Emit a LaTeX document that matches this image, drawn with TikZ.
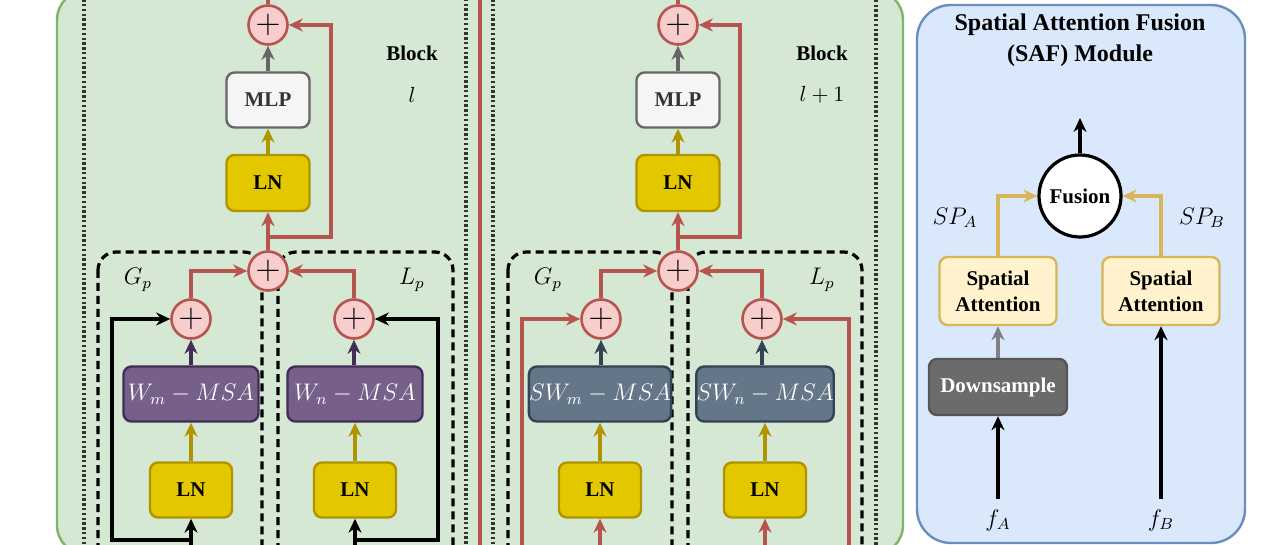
\documentclass[tikz,border=0pt]{standalone}
\usepackage{fontspec}
\setmainfont{Liberation Serif}
\usetikzlibrary{arrows.meta,calc}
\definecolor{grfill}{HTML}{D5E8D4}
\definecolor{grdraw}{HTML}{82B366}
\definecolor{blfill}{HTML}{DAE8FC}
\definecolor{bldraw}{HTML}{6C8EBF}
\definecolor{redc}{HTML}{B85450}
\definecolor{pinkfill}{HTML}{F8CECC}
\definecolor{lnfill}{HTML}{E3C800}
\definecolor{lndraw}{HTML}{B09500}
\definecolor{mlpfill}{HTML}{F5F5F5}
\definecolor{mlpdraw}{HTML}{666666}
\definecolor{purfill}{HTML}{76608A}
\definecolor{purdraw}{HTML}{432D57}
\definecolor{slfill}{HTML}{647687}
\definecolor{sldraw}{HTML}{314354}
\definecolor{safill}{HTML}{FFF2CC}
\definecolor{sadraw}{HTML}{D6B656}
\definecolor{dsfill}{HTML}{6B6B6B}
\definecolor{dsdraw}{HTML}{555555}
\definecolor{mlptext}{HTML}{333333}
\begin{document}
\begin{tikzpicture}[x=0.5pt,y=-0.5pt,
  arr/.style={-{Stealth[length=7pt,width=6.5pt]}},
  redl/.style={draw=redc,line width=1.6pt},
  blkl/.style={draw=black,line width=1.7pt},
  colarr/.style={draw=#1,line width=1.6pt,arr},
  txt/.style={font=\fontsize{10.5}{12}\selectfont\bfseries},
  mathlbl/.style={font=\fontsize{12}{14}\selectfont,inner sep=1pt},
  box/.style={rounded corners=4pt,line width=1.2pt,minimum width=41.5pt,minimum height=27.5pt,inner sep=0pt,txt},
  lnbox/.style={box,fill=lnfill,draw=lndraw},
  mlpbox/.style={box,fill=mlpfill,draw=mlpdraw,text=mlptext},
  wbox/.style={box,fill=purfill,draw=purdraw,text=white,minimum width=67.5pt,font=\fontsize{12}{14}\selectfont},
  swbox/.style={wbox,fill=slfill,draw=sldraw},
  plusc/.style={circle,fill=pinkfill,draw=redc,line width=1.3pt,minimum size=19.5pt,inner sep=0pt,font=\fontsize{17}{17}\selectfont},
  region/.style={draw=black,line width=1.6pt,dash pattern=on 4pt off 2.5pt,rounded corners=9pt},
  dotbox/.style={draw=black!80,line width=1.6pt,dash pattern=on 1.2pt off 1.2pt},
  sabox/.style={box,fill=safill,draw=sadraw,minimum width=58.5pt,minimum height=34pt,align=center,font=\fontsize{10.5}{13}\selectfont\bfseries},
  dsbox/.style={box,fill=dsfill,draw=dsdraw,text=white,minimum width=69pt,minimum height=28pt}
]
\useasboundingbox (0,0) rectangle (1280,545);
\clip (0,0) rectangle (1280,545);
\fill[white] (0,0) rectangle (1280,545);

% outer panels
\draw[fill=grfill,draw=grdraw,line width=1.2pt,rounded corners=15pt] (57,-10) rectangle (903,555);
\draw[fill=blfill,draw=bldraw,line width=1.2pt,rounded corners=17pt] (917,5) rectangle (1245,543);

% dotted block frames
\draw[dotbox] (84,-20) rectangle (466,570);
\draw[dotbox] (493,-20) rectangle (876,570);

% dashed regions
\draw[region] (98,252) rectangle (262,575);
\draw[region] (278,252) rectangle (453,575);
\draw[region] (508,252) rectangle (672,575);
\draw[region] (688,252) rectangle (862,575);

% middle red line
\coordinate (midtop) at (480,-5);
\coordinate (midbot) at (480,550);
\draw[redl] (midtop) -- (midbot);

% ---------------- Block l ----------------
\node[plusc] (tpA) at (268,25) {$+$};
\node[mlpbox] (mlpA) at (268,100) {MLP};
\node[lnbox,minimum height=28pt] (lnA) at (268,183) {LN};
\node[plusc] (bpA) at (268,271) {$+$};
\node[plusc] (spLA) at (191,319) {$+$};
\node[plusc] (spRA) at (354,319) {$+$};
\node[wbox] (wmA) at (191,394) {$W_m - MSA$};
\node[wbox] (wnA) at (355,394) {$W_n - MSA$};
\node[lnbox,minimum width=41pt] (lnLA) at (191,490) {LN};
\node[lnbox,minimum width=41pt] (lnRA) at (355,490) {LN};
\node[txt] (blkA) at (412,53) {Block};
\node[mathlbl,font=\fontsize{11}{13}\selectfont] (idxA) at (412,95) {$l$};
\node[mathlbl] (gpA) at (138,280) {$G_p$};
\node[mathlbl] (lpA) at (412,280) {$L_p$};

\coordinate (tpAout) at (268,-5);
\coordinate (jA) at (268,237);
\coordinate (inLA) at (191,550);
\coordinate (inRA) at (355,550);
\coordinate (jLA) at (191,540);
\coordinate (jRA) at (355,540);

\draw[redl] (tpA.north) -- (tpAout);
\draw[colarr=mlpdraw] (mlpA.north) -- (tpA.south);
\draw[colarr=lndraw] (lnA.north) -- (mlpA.south);
\draw[redl,arr] (bpA.north) -- (lnA.south);
\draw[redl,arr] (jA) -- ++(63,0) |- (tpA.east);
\draw[redl,arr] (spLA.north) |- (bpA.west);
\draw[redl,arr] (spRA.north) |- (bpA.east);
\draw[colarr=purdraw] (wmA.north) -- (spLA.south);
\draw[colarr=purdraw] (wnA.north -| spRA) -- (spRA.south);
\draw[colarr=lndraw] (lnLA.north) -- (wmA.south);
\draw[colarr=lndraw] (lnRA.north) -- (wnA.south);
\draw[blkl,arr] (inLA) -- (lnLA.south);
\draw[blkl,arr] (inRA) -- (lnRA.south);
\draw[blkl,arr] (jLA) -- ++(-79,0) |- (spLA.west);
\draw[blkl,arr] (jRA) -- ++(83,0) |- (spRA.east);

% ---------------- Block l+1 ----------------
\node[plusc] (tpB) at (678,25) {$+$};
\node[mlpbox] (mlpB) at (678,100) {MLP};
\node[lnbox,minimum height=28pt] (lnB) at (678,183) {LN};
\node[plusc] (bpB) at (678,271) {$+$};
\node[plusc] (spLB) at (601,319) {$+$};
\node[plusc] (spRB) at (762,319) {$+$};
\node[swbox] (swmB) at (600,394) {$SW_m - MSA$};
\node[swbox] (swnB) at (765,394) {$SW_n - MSA$};
\node[lnbox,minimum width=41pt] (lnLB) at (600,490) {LN};
\node[lnbox,minimum width=41pt] (lnRB) at (765,490) {LN};
\node[txt] (blkB) at (822,53) {Block};
\node[mathlbl,font=\fontsize{11}{13}\selectfont] (idxB) at (822,95) {$l+1$};
\node[mathlbl] (gpB) at (548,280) {$G_p$};
\node[mathlbl] (lpB) at (822,280) {$L_p$};

\coordinate (tpBout) at (678,-5);
\coordinate (jB) at (678,237);
\coordinate (inLB) at (600,550);
\coordinate (inRB) at (765,550);
\coordinate (byLB) at (522,550);
\coordinate (byRB) at (849,550);

\draw[redl] (tpB.north) -- (tpBout);
\draw[colarr=mlpdraw] (mlpB.north) -- (tpB.south);
\draw[colarr=lndraw] (lnB.north) -- (mlpB.south);
\draw[redl,arr] (bpB.north) -- (lnB.south);
\draw[redl,arr] (jB) -- ++(62,0) |- (tpB.east);
\draw[redl,arr] (spLB.north) |- (bpB.west);
\draw[redl,arr] (spRB.north) |- (bpB.east);
\draw[colarr=sldraw] (swmB.north -| spLB) -- (spLB.south);
\draw[colarr=sldraw] (swnB.north -| spRB) -- (spRB.south);
\draw[colarr=lndraw] (lnLB.north) -- (swmB.south);
\draw[colarr=lndraw] (lnRB.north) -- (swnB.south);
\draw[redl,arr] (inLB) -- (lnLB.south);
\draw[redl,arr] (inRB) -- (lnRB.south);
\draw[redl,arr] (byLB) |- (spLB.west);
\draw[redl,arr] (byRB) |- (spRB.east);

% ---------------- SAF module ----------------
\node[align=center,font=\fontsize{12}{15.5}\selectfont\bfseries] (saft) at (1080,40) {Spatial Attention Fusion\\(SAF) Module};
\node[circle,draw=black,fill=white,line width=1.6pt,minimum size=41pt,inner sep=0pt,txt] (fus) at (1080,196) {Fusion};
\node[sabox] (saL) at (998,291) {Spatial\\Attention};
\node[sabox] (saR) at (1161,291) {Spatial\\Attention};
\node[dsbox] (ds) at (998,387) {Downsample};
\node[mathlbl,inner sep=5pt] (fA) at (998,520) {$f_A$};
\node[mathlbl,inner sep=5pt] (fB) at (1161,520) {$f_B$};
\node[mathlbl] (spA) at (955,218) {$SP_A$};
\node[mathlbl] (spB) at (1202,218) {$SP_B$};
\coordinate (fout) at (1080,118);

\draw[blkl,arr] (fus.north) -- (fout);
\draw[colarr=sadraw] (saL.north) |- (fus.west);
\draw[colarr=sadraw] (saR.north) |- (fus.east);
\draw[colarr=black!50] (ds.north) -- (saL.south);
\draw[blkl,arr] (fA.north) -- (ds.south);
\draw[blkl,arr] (fB.north) -- (saR.south);
\end{tikzpicture}
\end{document}
